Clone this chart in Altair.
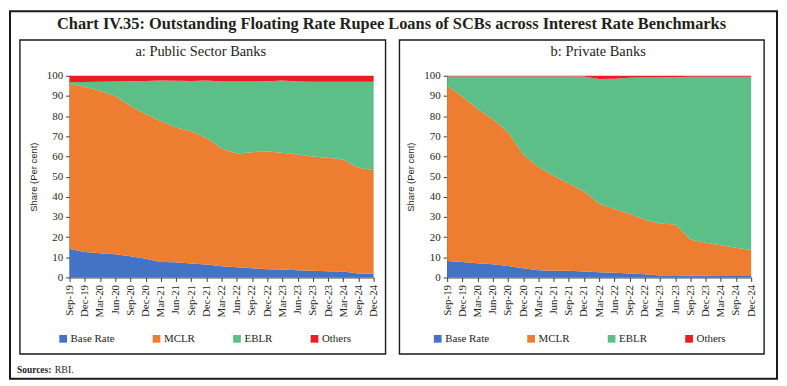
import altair as alt
import pandas as pd

quarters = ["Sep-19", "Dec-19", "Mar-20", "Jun-20", "Sep-20", "Dec-20", "Mar-21",
            "Jun-21", "Sep-21", "Dec-21", "Mar-22", "Jun-22", "Sep-22", "Dec-22",
            "Mar-23", "Jun-23", "Sep-23", "Dec-23", "Mar-24", "Sep-24", "Dec-24"]
benchmarks = ["Base Rate", "MCLR", "EBLR", "Others"]
colors = ["#4472C4", "#ED7D31", "#5CBF88", "#ED1C24"]

# Panel a: Public Sector Banks (shares, per cent)
psb_base = [14.1, 12.6, 12.0, 11.5, 10.5, 9.3, 7.7, 7.5, 6.9, 6.4, 5.6, 5.1, 4.6, 4.1, 3.9, 3.6, 3.3, 3.1, 3.0, 2.0, 1.8]
psb_mclr = [81.8, 82.0, 80.6, 78.5, 74.5, 71.7, 69.7, 66.9, 65.6, 62.8, 58.4, 56.4, 57.5, 58.4, 57.9, 57.4, 56.7, 56.2, 55.5, 52.4, 51.3]
psb_eblr = [0.9, 2.3, 4.4, 7.2, 12.3, 16.4, 20.3, 23.1, 24.9, 28.5, 33.2, 35.7, 35.1, 34.8, 35.9, 36.2, 37.0, 37.7, 38.5, 42.6, 43.9]
psb_other = [3.2, 3.1, 3.0, 2.8, 2.7, 2.6, 2.3, 2.5, 2.6, 2.3, 2.8, 2.8, 2.8, 2.7, 2.3, 2.8, 3.0, 3.0, 3.0, 3.0, 3.0]

# Panel b: Private Banks (shares, per cent)
pvb_base = [8.2, 7.7, 7.0, 6.6, 5.7, 4.6, 3.6, 3.3, 3.3, 3.0, 2.6, 2.3, 2.0, 1.6, 1.0, 1.1, 0.8, 0.8, 0.7, 0.7, 0.7]
pvb_mclr = [86.8, 82.0, 76.5, 72.0, 66.3, 56.4, 51.2, 47.1, 43.3, 39.7, 33.9, 31.7, 29.6, 27.0, 25.7, 25.1, 18.0, 16.4, 15.3, 14.0, 12.9]
pvb_eblr = [4.7, 10.0, 16.2, 21.1, 27.7, 38.7, 44.9, 49.3, 53.1, 56.9, 61.9, 64.5, 67.4, 70.6, 72.5, 73.1, 80.7, 82.3, 83.5, 84.8, 85.9]
pvb_other = [0.3, 0.3, 0.3, 0.3, 0.3, 0.3, 0.3, 0.3, 0.3, 0.4, 1.6, 1.5, 1.0, 0.8, 0.8, 0.7, 0.5, 0.5, 0.5, 0.5, 0.5]

SERIF = "Liberation Serif"
SANS = "Liberation Sans"
INK = "#231F20"
AXIS_C = "#3A3A3A"
W, H = 306, 203


def to_long(series):
    rows = []
    for i, (b, vals) in enumerate(zip(benchmarks, series)):
        for q, v in zip(quarters, vals):
            rows.append({"quarter": q, "benchmark": b, "share": v, "ord": i})
    return pd.DataFrame(rows)


one = pd.DataFrame({"k": [0]})


def text(txt, x, y, size, font=SERIF, weight="normal", align="center", baseline="alphabetic"):
    return alt.Chart(one).mark_text(font=font, fontSize=size, fontWeight=weight, align=align,
                                    baseline=baseline, color=INK).encode(
        x=alt.value(x), y=alt.value(y), text=alt.value(txt))


def box(x1, x2, y1, y2, sw):
    return alt.Chart(one).mark_rect(fillOpacity=0, stroke="#1A1A1A", strokeWidth=sw).encode(
        x=alt.value(x1), x2=alt.value(x2), y=alt.value(y1), y2=alt.value(y2))


def panel(df, legend_x):
    return alt.Chart(df).mark_area(opacity=1).encode(
        x=alt.X("quarter:O", sort=quarters,
                scale=alt.Scale(type="point", padding=0),
                axis=alt.Axis(title=None, labelAngle=270, labelFont=SERIF, labelFontSize=11,
                              labelColor=INK, labelPadding=3, tickSize=4, tickColor=AXIS_C,
                              domainColor=AXIS_C, labelOverlap=False, grid=False)),
        y=alt.Y("share:Q", stack="zero",
                scale=alt.Scale(domain=[0, 100], nice=False),
                axis=alt.Axis(title="Share (Per cent)", values=list(range(0, 101, 10)),
                              labelFont=SERIF, labelFontSize=11, labelColor=INK,
                              labelPadding=3, tickSize=4, tickColor=AXIS_C, domainColor=AXIS_C,
                              titleFont=SANS, titleFontSize=9.5, titleFontWeight="normal",
                              titleColor=INK, titlePadding=8, grid=False)),
        color=alt.Color("benchmark:N", sort=benchmarks,
                        scale=alt.Scale(domain=benchmarks, range=colors),
                        legend=alt.Legend(title=None, orient="none", legendX=legend_x, legendY=259,
                                          direction="horizontal", symbolType="square",
                                          symbolSize=60, symbolStrokeWidth=0, labelFont=SERIF,
                                          labelFontSize=11, labelColor=INK, labelOffset=2,
                                          columnPadding=36, padding=0)),
        order=alt.Order("ord:Q", sort="ascending"),
    ).properties(width=W, height=H)


left = alt.layer(
    box(-60, 712, -65, 305, 2),
    box(-50, 318, -36, 280, 1.4),
    panel(to_long([psb_base, psb_mclr, psb_eblr, psb_other]), -12),
    text("Chart IV.35: Outstanding Floating Rate Rupee Loans of SCBs across Interest Rate Benchmarks",
         324, -47, 16.5, weight="bold"),
    text("a: Public Sector Banks", 132, -20, 14.5),
    text("Sources:", -53, 299, 9.5, weight="bold", align="left"),
    text("RBI.", -15, 299, 10, align="left"),
).properties(width=W, height=H)

right = alt.layer(
    box(-48, 319, -36, 280, 1.4),
    panel(to_long([pvb_base, pvb_mclr, pvb_eblr, pvb_other]), -15),
    text("b: Private Banks", 152, -20, 14.5),
).properties(width=W, height=H)

chart = alt.hconcat(left, right, spacing=74, bounds="flush").resolve_scale(
    color="independent").resolve_legend(color="independent").properties(
    padding=0, background="white").configure_view(stroke="transparent").configure_legend(
    labelFont=SERIF, labelFontSize=11, labelColor=INK).configure_axis(labelFont=SERIF)

chart.save("out.html", embed_options={"renderer": "svg", "actions": False})
